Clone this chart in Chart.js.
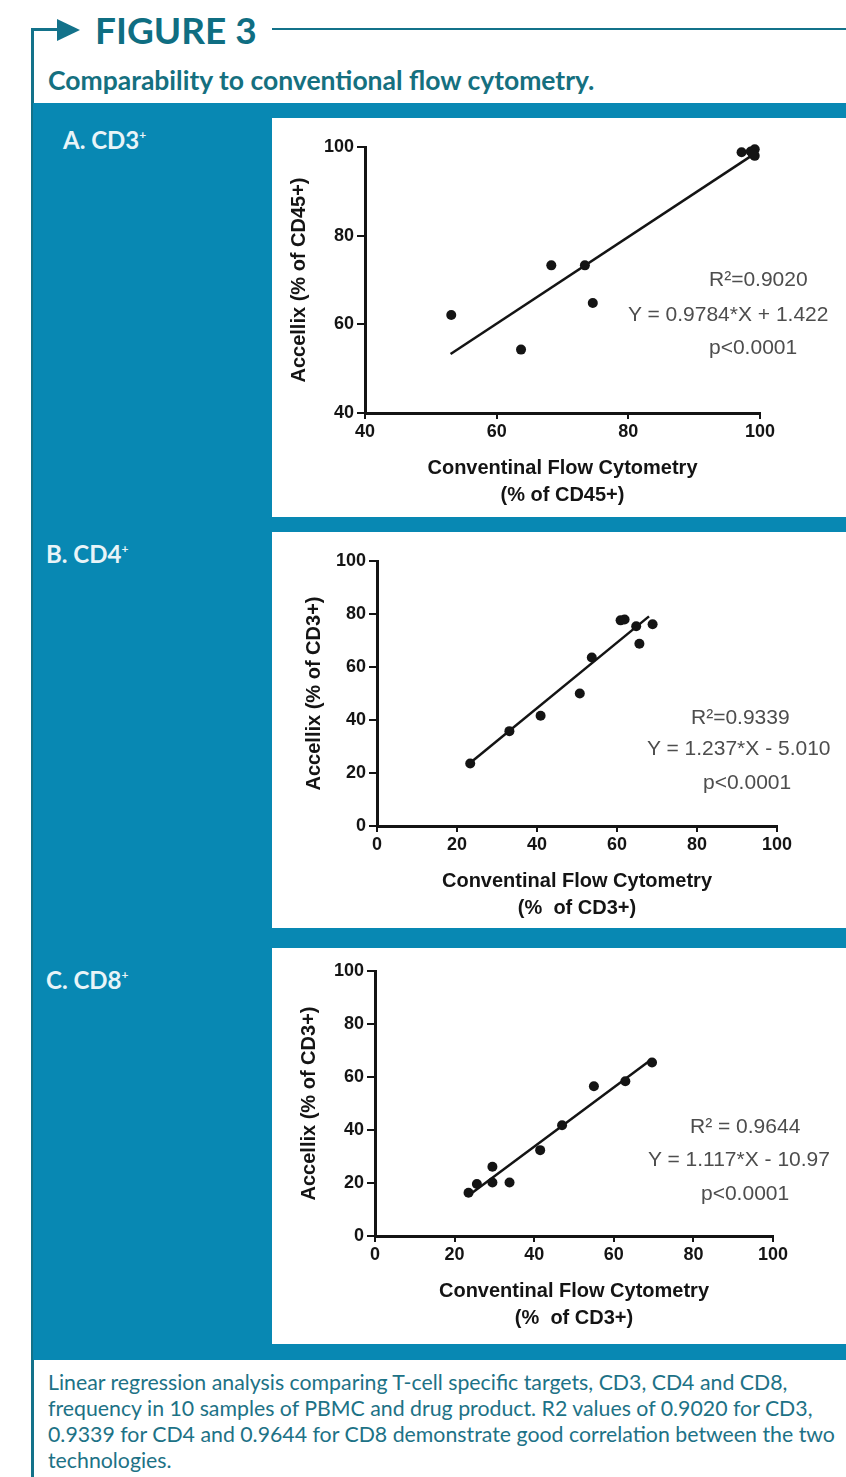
<!DOCTYPE html>
<html lang="en">
<head>
<meta charset="UTF-8">
<title>Figure 3 - Comparability to conventional flow cytometry</title>
<style>
    body {
        margin: 0;
        background: #fff;
    }
    #page {
        position: relative;
        width: 846px;
        height: 1477px;
        overflow: hidden;
        font-family: Lato, "Open Sans", sans-serif;
    }
    .teal-line { position: absolute; background: #13728a; }
    .arrowhead {
        position: absolute;
        left: 57px; top: 19px;
        width: 0; height: 0;
        border-top: 11px solid transparent;
        border-bottom: 11px solid transparent;
        border-left: 23px solid #13728a;
    }
    .fig-title {
        position: absolute;
        left: 95px; top: 8px;
        font-size: 37px; font-weight: 700;
        color: #0f6e82;
        line-height: 44px;
        white-space: nowrap;
    }
    .subtitle {
        position: absolute;
        left: 48px; top: 65px;
        font-size: 26.5px; font-weight: 700;
        color: #15707f;
        line-height: 30px;
        white-space: nowrap;
    }
    .band {
        position: absolute;
        left: 33px; top: 103px;
        width: 813px; height: 1257px;
        background: #0888b3;
    }
    .plabel {
        position: absolute;
        color: #e8f4f8;
        font-size: 24px; font-weight: 700;
        line-height: 28px;
        white-space: nowrap;
    }
    .plabel sup { font-size: 12px; vertical-align: 10px; }
    .panel {
        position: absolute;
        left: 272px;
        width: 574px;
        background: #fff;
    }
    .panel canvas { position: absolute; left: 0; top: 0; }
    .stat {
        position: absolute;
        font-family: "Liberation Sans", Arial, sans-serif;
        font-size: 21px;
        line-height: 24px;
        color: #4d4d4d;
        white-space: nowrap;
    }
    .caption {
        position: absolute;
        left: 48px; top: 1369px;
        font-size: 21.3px;
        line-height: 26px;
        color: #1d7286;
        white-space: nowrap;
    }
</style>
</head>
<body>
<div id="page">
    <div class="teal-line" style="left:31px;top:28px;width:3px;height:1449px;"></div>
    <div class="teal-line" style="left:31px;top:28px;width:28px;height:3px;"></div>
    <div class="arrowhead"></div>
    <div class="fig-title">FIGURE 3</div>
    <div class="teal-line" style="left:272px;top:28px;width:574px;height:2px;"></div>
    <div class="subtitle">Comparability to conventional flow cytometry.</div>

    <div class="band"></div>
    <div class="plabel" style="left:63px;top:121px;">A. CD3<sup>+</sup></div>
    <div class="plabel" style="left:46px;top:535px;">B. CD4<sup>+</sup></div>
    <div class="plabel" style="left:46px;top:961px;">C. CD8<sup>+</sup></div>

    <div class="panel" style="top:118px;height:399px;">
        <canvas id="chartA" width="574" height="399"></canvas>
    </div>
    <div class="panel" style="top:532px;height:396px;">
        <canvas id="chartB" width="574" height="396"></canvas>
    </div>
    <div class="panel" style="top:948px;height:396px;">
        <canvas id="chartC" width="574" height="396"></canvas>
    </div>

    <!-- regression stats -->
    <div class="stat" style="left:709px;top:267px;">R²=0.9020</div>
    <div class="stat" style="left:628px;top:302px;">Y = 0.9784*X + 1.422</div>
    <div class="stat" style="left:709px;top:335px;">p&lt;0.0001</div>

    <div class="stat" style="left:691px;top:705px;">R²=0.9339</div>
    <div class="stat" style="left:647px;top:736px;">Y = 1.237*X - 5.010</div>
    <div class="stat" style="left:703px;top:770px;">p&lt;0.0001</div>

    <div class="stat" style="left:690px;top:1114px;">R² = 0.9644</div>
    <div class="stat" style="left:648px;top:1147px;">Y = 1.117*X - 10.97</div>
    <div class="stat" style="left:701px;top:1181px;">p&lt;0.0001</div>

    <div class="caption">
        Linear regression analysis comparing T-cell specific targets, CD3, CD4 and CD8,<br>
        frequency in 10 samples of PBMC and drug product. R2 values of 0.9020 for CD3,<br>
        0.9339 for CD4 and 0.9644 for CD8 demonstrate good correlation between the two<br>
        technologies.
    </div>
</div>

<script src="https://cdn.jsdelivr.net/npm/chart.js"></script>
<script>
    // CD3 (% of CD45+)
    const cd3X = [53.1, 63.7, 68.3, 73.4, 74.6, 97.2, 98.6, 99.2, 99.2, 98.9];
    const cd3Y = [62.1, 54.3, 73.3, 73.3, 64.8, 98.8, 99.0, 99.5, 98.0, 98.4];
    const cd3FitX = [53.0, 99.2];
    const cd3FitY = [53.3, 98.5];

    // CD4 (% of CD3+)
    const cd4X = [23.3, 33.1, 40.9, 50.7, 53.7, 60.9, 61.9, 64.8, 65.6, 68.9];
    const cd4Y = [23.6, 35.8, 41.6, 50.0, 63.6, 77.6, 77.9, 75.4, 68.8, 76.1];
    const cd4FitX = [22.5, 68.0];
    const cd4FitY = [22.8, 79.1];

    // CD8 (% of CD3+)
    const cd8X = [23.5, 25.6, 29.5, 29.5, 33.8, 41.5, 47.0, 55.0, 62.9, 69.6];
    const cd8Y = [16.3, 19.6, 26.1, 20.2, 20.2, 32.4, 41.8, 56.5, 58.4, 65.5];
    const cd8FitX = [23.5, 69.6];
    const cd8FitY = [15.3, 66.8];

    const tickFont = { family: 'Liberation Sans', size: 18, weight: 'bold' };
    const titleFont = { family: 'Liberation Sans', size: 20, weight: 'bold', lineHeight: 1.35 };
    const ink = '#141414';

    function toPoints(xs, ys) {
        return xs.map((x, i) => ({ x: x, y: ys[i] }));
    }

    function axis(min, max, tickLen, pad, extra) {
        return Object.assign({
            type: 'linear',
            min: min,
            max: max,
            ticks: { stepSize: 20, color: ink, font: tickFont, padding: pad, maxRotation: 0 },
            grid: { drawOnChartArea: false, drawTicks: true, tickLength: tickLen, color: ink, lineWidth: 2 },
            border: { display: true, color: ink, width: 3 }
        }, extra);
    }

    function makePanel(id, xs, ys, fitX, fitY, lo, xTitle, yTitle, yTitlePad, yWidth, pad) {
        new Chart(document.getElementById(id), {
            type: 'scatter',
            data: {
                datasets: [{
                    data: toPoints(xs, ys),
                    backgroundColor: ink,
                    borderWidth: 0,
                    pointRadius: 5,
                    clip: false
                }, {
                    type: 'line',
                    data: toPoints(fitX, fitY),
                    borderColor: ink,
                    borderWidth: 2.5,
                    pointRadius: 0,
                    fill: false,
                    clip: false
                }]
            },
            options: {
                responsive: false,
                animation: false,
                devicePixelRatio: 1,
                layout: { padding: pad },
                plugins: { legend: { display: false }, tooltip: { enabled: false } },
                scales: {
                    x: axis(lo, 100, 6, 2, {
                        title: { display: true, text: xTitle, color: ink, font: titleFont, padding: { top: 4, bottom: 4 } },
                        afterFit: s => { s.height = 100; }
                    }),
                    y: axis(lo, 100, 8, 3, {
                        title: { display: true, text: yTitle, color: ink, font: Object.assign({}, titleFont, { lineHeight: 1.2 }), padding: { top: yTitlePad, bottom: 0 } },
                        afterFit: s => { s.width = yWidth; }
                    })
                }
            }
        });
    }

    makePanel('chartA', cd3X, cd3Y, cd3FitX, cd3FitY, 40,
        ['Conventinal Flow Cytometry', '(% of CD45+)'], 'Accellix (% of CD45+)',
        15, 93, { top: 29, right: 86, bottom: 4, left: 0 });

    makePanel('chartB', cd4X, cd4Y, cd4FitX, cd4FitY, 0,
        ['Conventinal Flow Cytometry', '(%  of CD3+)'], 'Accellix (% of CD3+)',
        30, 105, { top: 29, right: 69, bottom: 2, left: 0 });

    makePanel('chartC', cd8X, cd8Y, cd8FitX, cd8FitY, 0,
        ['Conventinal Flow Cytometry', '(%  of CD3+)'], 'Accellix (% of CD3+)',
        25, 103, { top: 23, right: 73, bottom: 8, left: 0 });
</script>
</body>
</html>
